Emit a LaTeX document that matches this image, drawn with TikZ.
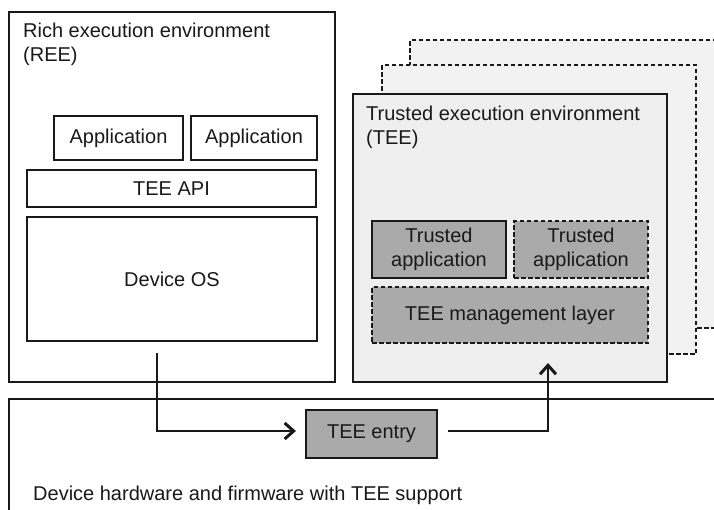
\documentclass[tikz,border=0pt]{standalone}
\usepackage{fontspec}
\setmainfont{Liberation Sans}
\usetikzlibrary{arrows.meta}
\definecolor{darkfill}{RGB}{170,170,170}
\definecolor{lightfill}{RGB}{239,239,239}
\definecolor{backfill}{RGB}{242,242,242}
\definecolor{ink}{RGB}{25,25,25}
\tikzset{
  box/.style={draw=ink, line width=2.2pt, rectangle, inner sep=0pt, text=ink,
              font=\fontsize{20}{24}\selectfont, align=center},
  dashbox/.style={box, dash pattern=on 4.5pt off 2.5pt},
  label/.style={inner sep=0pt, text=ink, font=\fontsize{20}{24}\selectfont, align=left},
  arr/.style={draw=ink, line width=2.4pt,
              -{Straight Barb[length=9pt,width=16pt,line width=3pt]}},
}
\begin{document}
\begin{tikzpicture}[x=1pt, y=-1pt]
  \useasboundingbox[fill=white] (0,0) rectangle (714,509);

  % hardware layer
  \node[box, fill=white, minimum width=740pt, minimum height=140pt, anchor=north west]
    (hw) at (8,398) {};
  \node[label, anchor=base west] (hwtext) at (33,500)
    {Device hardware and firmware with TEE support};

  % rich execution environment
  \node[box, fill=white, minimum width=326pt, minimum height=370pt] (ree) at (172,197) {};
  \node[label, anchor=north west] (reetitle) at (23,22.5)
    {Rich execution environment\\(REE)};
  \node[box, minimum width=129pt, minimum height=44pt] (app1) at (118.5,138) {Application};
  \node[box, minimum width=126pt, minimum height=44pt] (app2) at (254,138) {Application};
  \node[box, minimum width=289pt, minimum height=37pt] (api) at (171.5,188.5) {TEE API};
  \node[box, minimum width=290pt, minimum height=124pt] (os) at (172,279) {Device OS};

  % stacked trusted environments
  \node[dashbox, fill=backfill, minimum width=314pt, minimum height=288pt] (back3) at (567,184) {};
  \node[dashbox, fill=backfill, minimum width=314pt, minimum height=289pt] (back2) at (539,209.5) {};
  \node[box, fill=lightfill, minimum width=314pt, minimum height=288pt] (tee) at (510,238) {};
  \node[label, anchor=north west] (teetitle) at (366,105.5)
    {Trusted execution environment\\(TEE)};
  \node[box, fill=darkfill, minimum width=134pt, minimum height=57pt] (ta1) at (439,249.5)
    {Trusted\\application};
  \node[dashbox, fill=darkfill, minimum width=134pt, minimum height=57pt] (ta2) at (581,249.5)
    {Trusted\\application};
  \node[dashbox, fill=darkfill, minimum width=276pt, minimum height=56pt] (mgmt) at (510,315)
    {TEE management layer};

  % entry point
  \node[box, fill=darkfill, minimum width=131pt, minimum height=48pt] (entry) at (371.5,434)
    {TEE entry};

  % call path
  \coordinate (osout) at (157,353);
  \coordinate (teein) at (548,363);
  \draw[arr, shorten >=9pt] (osout) |- ([yshift=3pt]entry.west);
  \draw[arr] ([xshift=10pt,yshift=3pt]entry.east) -| (teein);
\end{tikzpicture}
\end{document}
